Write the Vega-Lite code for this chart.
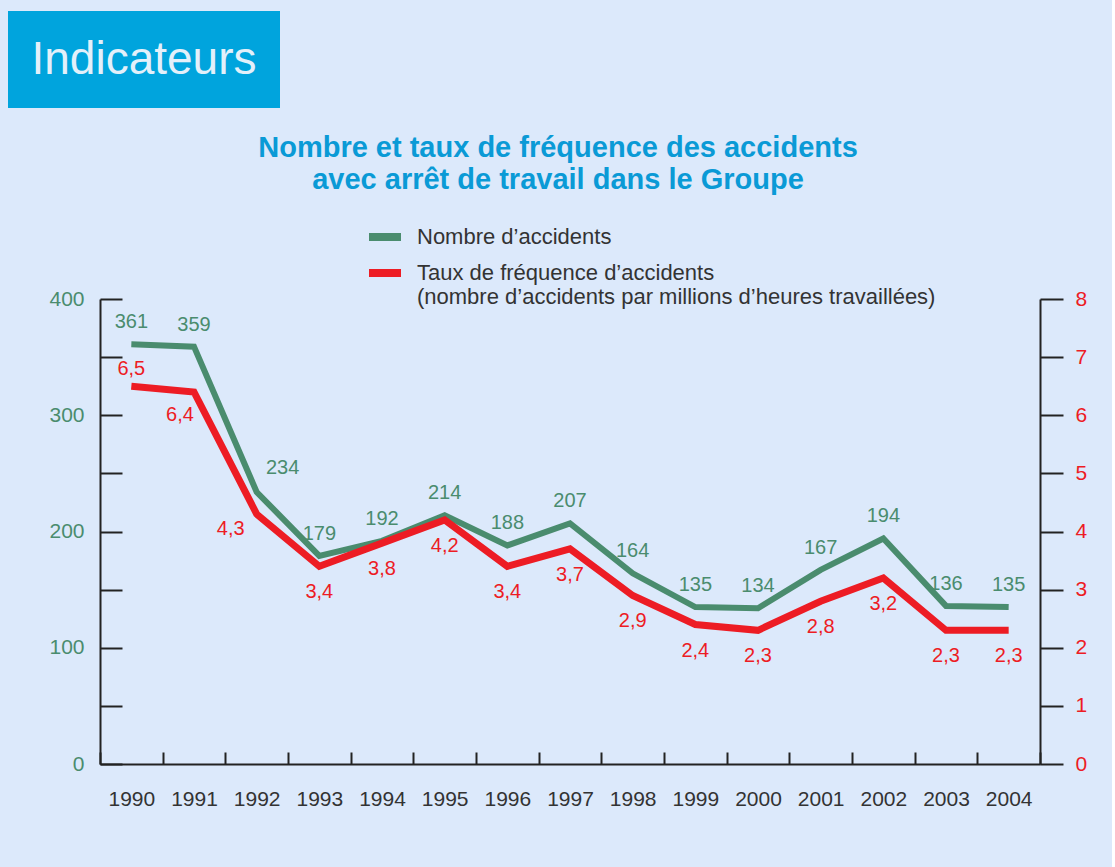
{
  "$schema": "https://vega.github.io/schema/vega-lite/v6.json",
  "background": "#dce9fb",
  "padding": {"left": 8, "top": 11, "right": 25, "bottom": 63},
  "spacing": 26,
  "config": {
    "font": "Liberation Sans",
    "view": {"stroke": null},
    "locale": {"number": {"decimal": ",", "thousands": " ", "grouping": [3], "currency": ["", " €"]}}
  },
  "resolve": {"scale": {"color": "independent"}, "legend": {"color": "independent"}},
  "vconcat": [
    {
      "width": 272,
      "height": 97,
      "view": {"fill": "#00a4dd", "stroke": null},
      "data": {"values": [{"heading": "Indicateurs"}]},
      "mark": {"type": "text", "fontSize": 46, "color": "#e3f0fa", "baseline": "middle", "align": "center"},
      "encoding": {"text": {"field": "heading"}}
    },
    {
      "width": 1032,
      "height": 465,
      "title": {
        "text": ["Nombre et taux de fréquence des accidents", "avec arrêt de travail dans le Groupe"],
        "fontSize": 29,
        "fontWeight": "bold",
        "color": "#0a9ad6",
        "anchor": "middle",
        "lineHeight": 32,
        "offset": 22,
        "dx": 34
      },
      "data": {"values": [
        {"year": 1990, "accidents": 361, "rate": 6.5},
        {"year": 1991, "accidents": 359, "rate": 6.4},
        {"year": 1992, "accidents": 234, "rate": 4.3},
        {"year": 1993, "accidents": 179, "rate": 3.4},
        {"year": 1994, "accidents": 192, "rate": 3.8},
        {"year": 1995, "accidents": 214, "rate": 4.2},
        {"year": 1996, "accidents": 188, "rate": 3.4},
        {"year": 1997, "accidents": 207, "rate": 3.7},
        {"year": 1998, "accidents": 164, "rate": 2.9},
        {"year": 1999, "accidents": 135, "rate": 2.4},
        {"year": 2000, "accidents": 134, "rate": 2.3},
        {"year": 2001, "accidents": 167, "rate": 2.8},
        {"year": 2002, "accidents": 194, "rate": 3.2},
        {"year": 2003, "accidents": 136, "rate": 2.3},
        {"year": 2004, "accidents": 135, "rate": 2.3}
      ]},
      "encoding": {
        "x": {
          "field": "year",
          "type": "ordinal",
          "scale": {"type": "band", "paddingInner": 0, "paddingOuter": 0, "range": [92, 1032]},
          "axis": {
            "title": null,
            "labelAngle": 0,
            "tickBand": "extent",
            "domainColor": "#222222",
            "domainWidth": 2,
            "tickColor": "#222222",
            "tickWidth": 2,
            "tickSize": -12,
            "labelFontSize": 21,
            "labelColor": "#333333",
            "labelPadding": 36,
            "grid": false
          }
        }
      },
      "layer": [
        {
          "encoding": {
            "y": {
              "field": "accidents",
              "type": "quantitative",
              "scale": {"domain": [0, 400], "nice": false},
              "axis": {
                "orient": "left",
                "offset": -92,
                "title": null,
                "values": [0, 50, 100, 150, 200, 250, 300, 350, 400],
                "labelExpr": "datum.value % 100 == 0 ? datum.label : ''",
                "grid": false,
                "domainColor": "#222222",
                "domainWidth": 2,
                "tickColor": "#222222",
                "tickWidth": 2,
                "tickSize": -22,
                "labelFontSize": 21,
                "labelColor": "#4a8c6e",
                "labelPadding": 38
              }
            }
          },
          "layer": [
            {
              "mark": {"type": "line", "strokeWidth": 6},
              "encoding": {
                "color": {
                  "datum": "Nombre d’accidents",
                  "scale": {
                    "domain": ["Nombre d’accidents", "Taux de fréquence d’accidents"],
                    "range": ["#4a8c6e", "#ed1c24"]
                  },
                  "legend": {
                    "orient": "none",
                    "legendX": 357,
                    "legendY": -82,
                    "title": null,
                    "symbolType": "stroke",
                    "symbolSize": 1024,
                    "symbolStrokeWidth": 8,
                    "labelFontSize": 22,
                    "labelColor": "#333333",
                    "labelOffset": 12,
                    "labelLimit": 800,
                    "rowPadding": 0,
                    "labelExpr": "datum.label == 'Taux de fréquence d’accidents' ? ['Taux de fréquence d’accidents', '(nombre d’accidents par millions d’heures travaillées)'] : datum.label",
                    "encoding": {"labels": {"update": {"lineHeight": {"value": 29}}}}
                  }
                }
              }
            },
            {
              "transform": [{"filter": "datum.year != 1992"}],
              "mark": {"type": "text", "fontSize": 20, "color": "#4a8c6e", "dy": -22, "baseline": "middle"},
              "encoding": {"text": {"field": "accidents", "type": "quantitative", "format": "d"}}
            },
            {
              "transform": [{"filter": "datum.year == 1992"}],
              "mark": {"type": "text", "fontSize": 20, "color": "#4a8c6e", "dx": 26, "dy": -24, "baseline": "middle"},
              "encoding": {"text": {"field": "accidents", "type": "quantitative", "format": "d"}}
            }
          ]
        },
        {
          "encoding": {
            "y": {
              "field": "rate",
              "type": "quantitative",
              "scale": {"domain": [0, 8], "nice": false},
              "axis": {
                "orient": "right",
                "title": null,
                "values": [0, 1, 2, 3, 4, 5, 6, 7, 8],
                "grid": false,
                "domainColor": "#222222",
                "domainWidth": 2,
                "tickColor": "#222222",
                "tickWidth": 2,
                "tickSize": 23,
                "labelFontSize": 21,
                "labelColor": "#ed1c24",
                "labelPadding": 12
              }
            }
          },
          "layer": [
            {
              "mark": {"type": "line", "strokeWidth": 7},
              "encoding": {"color": {"datum": "Taux de fréquence d’accidents"}}
            },
            {
              "transform": [{"filter": "datum.year == 1990"}],
              "mark": {"type": "text", "fontSize": 20, "color": "#ed1c24", "dy": -17, "baseline": "middle"},
              "encoding": {"text": {"field": "rate", "type": "quantitative", "format": ".1f"}}
            },
            {
              "transform": [{"filter": "datum.year == 1991"}],
              "mark": {"type": "text", "fontSize": 20, "color": "#ed1c24", "dx": -14, "dy": 23, "baseline": "middle"},
              "encoding": {"text": {"field": "rate", "type": "quantitative", "format": ".1f"}}
            },
            {
              "transform": [{"filter": "datum.year == 1992"}],
              "mark": {"type": "text", "fontSize": 20, "color": "#ed1c24", "dx": -26, "dy": 15, "baseline": "middle"},
              "encoding": {"text": {"field": "rate", "type": "quantitative", "format": ".1f"}}
            },
            {
              "transform": [{"filter": "datum.year > 1992"}],
              "mark": {"type": "text", "fontSize": 20, "color": "#ed1c24", "dy": 26, "baseline": "middle"},
              "encoding": {"text": {"field": "rate", "type": "quantitative", "format": ".1f"}}
            }
          ],
          "resolve": {"scale": {"y": "shared"}}
        }
      ],
      "resolve": {"scale": {"y": "independent"}}
    }
  ]
}
